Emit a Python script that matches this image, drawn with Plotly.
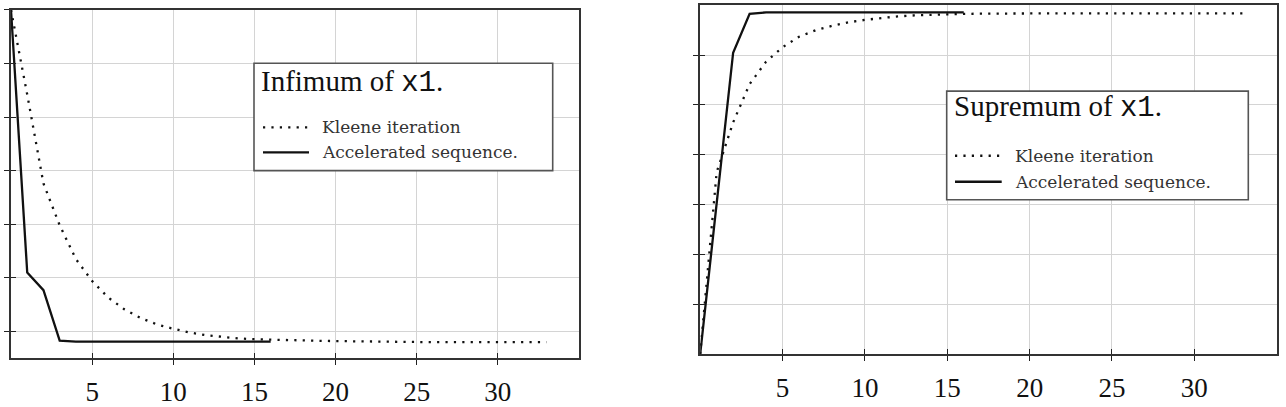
import plotly.graph_objects as go

# ---------------- data ----------------
iter_kleene = list(range(0, 34))
iter_accel = list(range(0, 17))

inf_kleene = [7.00, 5.42, 3.76, 2.98, 2.35, 1.94, 1.63, 1.41, 1.25, 1.13,
              1.05, 0.98, 0.93, 0.90, 0.87, 0.855, 0.845, 0.835, 0.83, 0.825,
              0.82, 0.815, 0.81, 0.81, 0.805, 0.805, 0.80, 0.80, 0.80, 0.80,
              0.80, 0.80, 0.80, 0.80]
inf_accel = [7.00, 2.10, 1.77, 0.83, 0.81, 0.81, 0.81, 0.81, 0.81, 0.81,
             0.81, 0.81, 0.81, 0.81, 0.81, 0.81, 0.81]

sup_kleene = [0.00, 3.65, 4.65, 5.42, 5.87, 6.16, 6.37, 6.50, 6.59, 6.66,
              6.71, 6.75, 6.78, 6.80, 6.815, 6.825, 6.83, 6.835, 6.84, 6.84,
              6.84, 6.84, 6.84, 6.84, 6.84, 6.84, 6.84, 6.84, 6.84, 6.84,
              6.84, 6.84, 6.84, 6.84]
sup_accel = [0.00, 3.02, 6.05, 6.83, 6.86, 6.86, 6.86, 6.86, 6.86, 6.86,
             6.86, 6.86, 6.86, 6.86, 6.86, 6.86, 6.86]

x_tickvals = [5, 10, 15, 20, 25, 30]
x_ticktext = ["5", "10", "15", "20", "25", "30"]
y_tickvals_inf = [1, 2, 3, 4, 5, 6, 7]
y_tickvals_sup = [1, 2, 3, 4, 5, 6]

legend_titles = ["Infimum of <span style=\"font-family:'Liberation Mono'\">x1</span>.",
                 "Supremum of <span style=\"font-family:'Liberation Mono'\">x1</span>."]
series_names = ["Kleene iteration", "Accelerated sequence."]

# ---------------- layout geometry (pixels) ----------------
W, H = 1286, 407
def px(x):
    return x / W
def py(y):
    return 1 - y / H

L = dict(x0=11, x1=579, top=10, bot=362.7)
R = dict(x0=700.2, x1=1276.7, top=5.5, bot=358.3)

DOT = "2.2px,6.2px"
LINE_W = 2.3
SERIF = "Liberation Serif"

fig = go.Figure()

def add_pair(xk, yk, xa, ya, xref, yref):
    fig.add_trace(go.Scatter(x=xk, y=yk, mode="lines", name=series_names[0],
                             line=dict(color="#111", width=LINE_W, dash=DOT),
                             xaxis=xref, yaxis=yref, showlegend=False))
    fig.add_trace(go.Scatter(x=xa, y=ya, mode="lines", name=series_names[1],
                             line=dict(color="#111", width=LINE_W),
                             xaxis=xref, yaxis=yref, showlegend=False))

add_pair(iter_kleene, inf_kleene, iter_accel, inf_accel, "x", "y")
add_pair(iter_kleene, sup_kleene, iter_accel, sup_accel, "x2", "y2")

# invisible traces for the overlay (inside-tick) axes
fig.add_trace(go.Scatter(x=iter_kleene, y=inf_kleene, mode="lines", opacity=0,
                         xaxis="x3", yaxis="y3", showlegend=False, hoverinfo="skip"))
fig.add_trace(go.Scatter(x=iter_kleene, y=sup_kleene, mode="lines", opacity=0,
                         xaxis="x4", yaxis="y4", showlegend=False, hoverinfo="skip"))

common_x = dict(range=[0, 35], tickvals=x_tickvals, ticktext=x_ticktext,
                ticks="outside", ticklen=5, tickwidth=1.3, tickcolor="#222",
                showline=True, linecolor="#333", linewidth=1.6, mirror=True,
                showgrid=True, gridcolor="#d4d4d4", gridwidth=1, zeroline=False,
                tickfont=dict(family=SERIF, size=27, color="#111"),
                ticklabelstandoff=4)
common_y = dict(showticklabels=False,
                ticks="outside", ticklen=5, tickwidth=1.3, tickcolor="#222",
                showline=True, linecolor="#333", linewidth=1.6, mirror=True,
                showgrid=True, gridcolor="#d4d4d4", gridwidth=1, zeroline=False)
over_x = dict(range=[0, 35], tickvals=x_tickvals, showticklabels=False,
              ticks="inside", ticklen=5, tickwidth=1.3, tickcolor="#222",
              showline=False, showgrid=False, zeroline=False)
over_y = dict(showticklabels=False,
              ticks="inside", ticklen=5, tickwidth=1.3, tickcolor="#222",
              showline=False, showgrid=False, zeroline=False)

fig.update_layout(
    width=W, height=H, margin=dict(l=0, r=0, t=0, b=0),
    paper_bgcolor="white", plot_bgcolor="rgba(0,0,0,0)", showlegend=False,
    xaxis=dict(domain=[px(L["x0"]), px(L["x1"])], anchor="y", **common_x),
    yaxis=dict(domain=[py(L["bot"]), py(L["top"])], anchor="x", range=[0.5, 7],
               tickvals=y_tickvals_inf, **common_y),
    xaxis2=dict(domain=[px(R["x0"]), px(R["x1"])], anchor="y2", **common_x),
    yaxis2=dict(domain=[py(R["bot"]), py(R["top"])], anchor="x2", range=[0, 7],
                tickvals=y_tickvals_sup, **common_y),
    xaxis3=dict(domain=[px(L["x0"]), px(L["x1"])], anchor="y3", **over_x),
    yaxis3=dict(domain=[py(L["bot"]), py(L["top"])], anchor="x3", range=[0.5, 7],
                tickvals=y_tickvals_inf, **over_y),
    xaxis4=dict(domain=[px(R["x0"]), px(R["x1"])], anchor="y4", **over_x),
    yaxis4=dict(domain=[py(R["bot"]), py(R["top"])], anchor="x4", range=[0, 7],
                tickvals=y_tickvals_sup, **over_y),
)

# ---------------- hand-drawn legends (pgfplots style boxes) ----------------
def legend(box, title, title_x, title_base, row1, row2, samp_x0, samp_x1, text_x):
    x0, y0, x1, y1 = box
    fig.add_shape(type="rect", xref="paper", yref="paper",
                  x0=px(x0), x1=px(x1), y0=py(y1), y1=py(y0),
                  line=dict(color="#555", width=1.6), fillcolor="white", layer="above")
    fig.add_shape(type="line", xref="paper", yref="paper",
                  x0=px(samp_x0), x1=px(samp_x1), y0=py(row1), y1=py(row1),
                  line=dict(color="#111", width=LINE_W, dash=DOT), layer="above")
    fig.add_shape(type="line", xref="paper", yref="paper",
                  x0=px(samp_x0), x1=px(samp_x1), y0=py(row2), y1=py(row2),
                  line=dict(color="#111", width=LINE_W), layer="above")
    fig.add_annotation(x=px(title_x), y=py(title_base - 9.5), xref="paper", yref="paper",
                       xanchor="left", yanchor="middle", showarrow=False, text=title,
                       font=dict(family=SERIF, size=29, color="#111"))
    for row, name in ((row1, series_names[0]), (row2, series_names[1])):
        fig.add_annotation(x=px(text_x), y=py(row), xref="paper", yref="paper",
                           xanchor="left", yanchor="middle", showarrow=False, text=name,
                           font=dict(family="DejaVu Serif", size=17, color="#333"))

legend((254, 64, 552.7, 172.7), legend_titles[0], 259, 93.3, 129, 154.3, 263, 309, 320)
legend((946.7, 92.3, 1248.3, 202.3), legend_titles[1], 952, 118.3, 157.7, 184, 955, 1001.7, 1013)

fig.write_html("out.html")
